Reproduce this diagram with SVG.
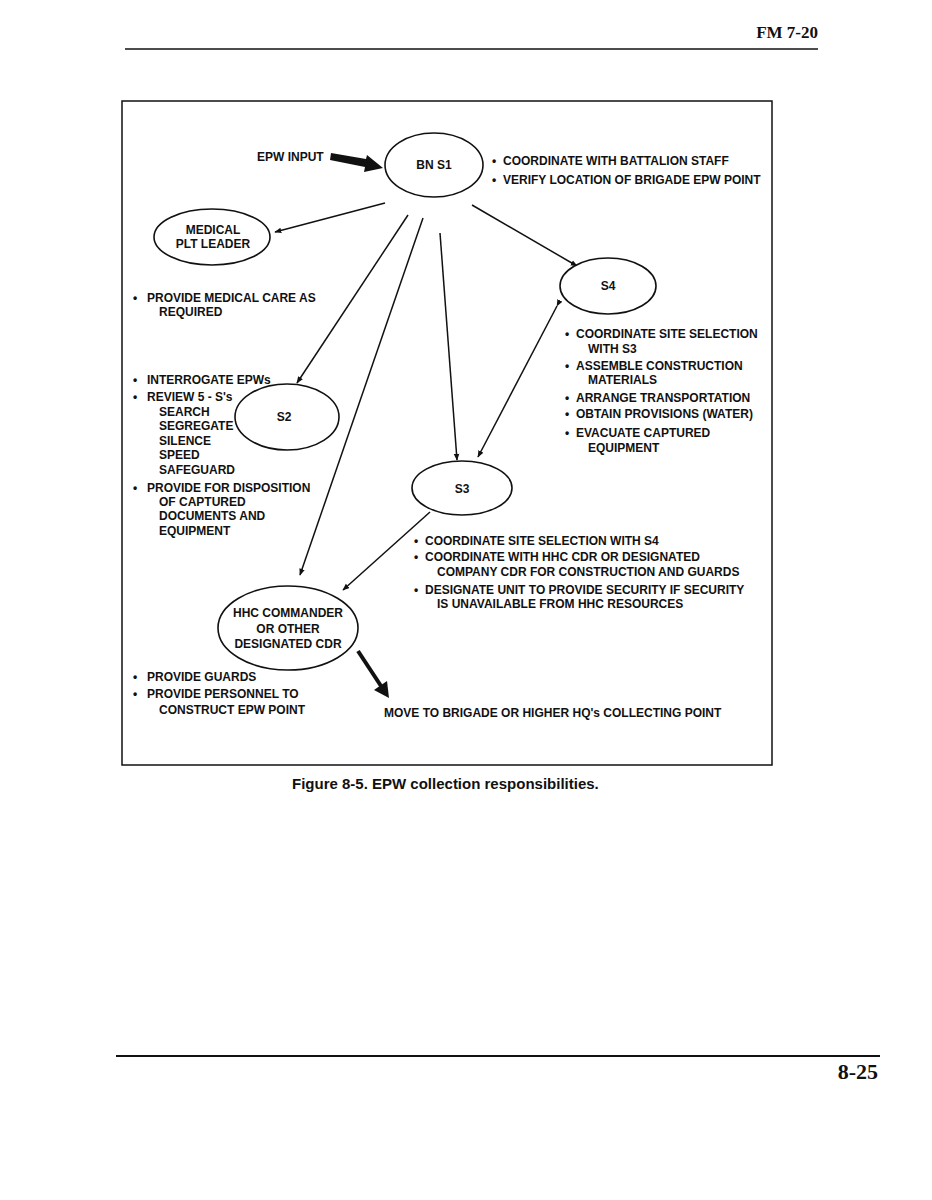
<svg xmlns="http://www.w3.org/2000/svg" width="932" height="1200" viewBox="0 0 932 1200">
<style>
  .t{font-family:"Liberation Sans",Arial,sans-serif;font-weight:bold;font-size:12px;fill:#111}
  .c{text-anchor:middle}
  .hd{font-family:"Liberation Serif","Times New Roman",serif;font-weight:bold;font-size:17px;fill:#111}
  .pg{font-size:22px}
  .cap{font-family:"Liberation Sans",Arial,sans-serif;font-weight:bold;font-size:15px;fill:#111}
  .node{fill:#fff;stroke:#111;stroke-width:1.6}
  .ln{stroke:#111;stroke-width:1.5;fill:none}
</style>
<defs>
  <marker id="ah" viewBox="0 0 10 10" refX="9" refY="5" markerWidth="7" markerHeight="7" orient="auto" markerUnits="userSpaceOnUse">
    <path d="M0,1 L10,5 L0,9 z" fill="#111"/>
  </marker>
</defs>
<rect width="932" height="1200" fill="#fff"/>
<g id="header">
  <text class="hd" x="818" y="38" text-anchor="end">FM 7-20</text>
  <line x1="125" y1="49" x2="818" y2="49" stroke="#111" stroke-width="1.5"/>
</g>
<rect id="frame" x="122" y="101" width="650" height="664" fill="none" stroke="#111" stroke-width="1.5"/>

<g id="connectors">
  <polygon points="331,153 366,159 367,155 383,168 364,172 365,167 330,160" fill="#111"/>
  <line class="ln" x1="385" y1="203" x2="275" y2="232" marker-end="url(#ah)"/>
  <line class="ln" x1="472" y1="205" x2="577" y2="266" marker-end="url(#ah)"/>
  <line class="ln" x1="408" y1="215" x2="297" y2="383" marker-end="url(#ah)"/>
  <line class="ln" x1="423" y1="218" x2="300" y2="575" marker-end="url(#ah)"/>
  <line class="ln" x1="440" y1="233" x2="457" y2="460" marker-end="url(#ah)"/>
  <line class="ln" x1="557" y1="306" x2="478" y2="457" marker-start="url(#ah)" marker-end="url(#ah)"/>
  <line class="ln" x1="430" y1="512" x2="343" y2="590" marker-end="url(#ah)"/>
  <line x1="358" y1="651" x2="381" y2="686" stroke="#111" stroke-width="4"/>
  <polygon points="374,690 389,698 387,681" fill="#111"/>
</g>

<g id="epw-input"><text class="t" x="257" y="161">EPW INPUT</text></g>

<g id="bn-s1">
  <ellipse class="node" cx="434" cy="165" rx="49" ry="32"/>
  <text class="t c" x="434" y="169">BN S1</text>
</g>
<g id="bn-s1-notes">
  <text class="t" x="492" y="165">•</text><text class="t" x="503" y="165">COORDINATE WITH BATTALION STAFF</text>
  <text class="t" x="492" y="184">•</text><text class="t" x="503" y="184">VERIFY LOCATION OF BRIGADE EPW POINT</text>
</g>

<g id="medical">
  <ellipse class="node" cx="212" cy="237" rx="58" ry="28"/>
  <text class="t c" x="213" y="234">MEDICAL</text>
  <text class="t c" x="213" y="248">PLT LEADER</text>
</g>
<g id="medical-notes">
  <text class="t" x="133" y="302">•</text><text class="t" x="147" y="302">PROVIDE MEDICAL CARE AS</text>
  <text class="t" x="159" y="316">REQUIRED</text>
</g>

<g id="s4">
  <ellipse class="node" cx="608" cy="286" rx="48" ry="28"/>
  <text class="t c" x="608" y="290">S4</text>
</g>
<g id="s4-notes">
  <text class="t" x="565" y="338">•</text><text class="t" x="576" y="338">COORDINATE SITE SELECTION</text>
  <text class="t" x="588" y="353">WITH S3</text>
  <text class="t" x="565" y="370">•</text><text class="t" x="576" y="370">ASSEMBLE CONSTRUCTION</text>
  <text class="t" x="588" y="384">MATERIALS</text>
  <text class="t" x="565" y="402">•</text><text class="t" x="576" y="402">ARRANGE TRANSPORTATION</text>
  <text class="t" x="565" y="418">•</text><text class="t" x="576" y="418">OBTAIN PROVISIONS (WATER)</text>
  <text class="t" x="565" y="437">•</text><text class="t" x="576" y="437">EVACUATE CAPTURED</text>
  <text class="t" x="588" y="452">EQUIPMENT</text>
</g>

<g id="s2">
  <ellipse class="node" cx="287" cy="417" rx="52" ry="33"/>
  <text class="t c" x="284" y="421">S2</text>
</g>
<g id="s2-notes">
  <text class="t" x="133" y="384">•</text><text class="t" x="147" y="384">INTERROGATE EPWs</text>
  <text class="t" x="133" y="401">•</text><text class="t" x="147" y="401">REVIEW 5 - S's</text>
  <text class="t" x="159" y="416">SEARCH</text>
  <text class="t" x="159" y="430">SEGREGATE</text>
  <text class="t" x="159" y="445">SILENCE</text>
  <text class="t" x="159" y="459">SPEED</text>
  <text class="t" x="159" y="474">SAFEGUARD</text>
  <text class="t" x="133" y="492">•</text><text class="t" x="147" y="492">PROVIDE FOR DISPOSITION</text>
  <text class="t" x="159" y="506">OF CAPTURED</text>
  <text class="t" x="159" y="520">DOCUMENTS AND</text>
  <text class="t" x="159" y="535">EQUIPMENT</text>
</g>

<g id="s3">
  <ellipse class="node" cx="462" cy="488" rx="50" ry="27"/>
  <text class="t c" x="462" y="493">S3</text>
</g>
<g id="s3-notes">
  <text class="t" x="414" y="545">•</text><text class="t" x="425" y="545">COORDINATE SITE SELECTION WITH S4</text>
  <text class="t" x="414" y="561">•</text><text class="t" x="425" y="561">COORDINATE WITH HHC CDR OR DESIGNATED</text>
  <text class="t" x="437" y="576">COMPANY CDR FOR CONSTRUCTION AND GUARDS</text>
  <text class="t" x="414" y="594">•</text><text class="t" x="425" y="594">DESIGNATE UNIT TO PROVIDE SECURITY IF SECURITY</text>
  <text class="t" x="437" y="608">IS UNAVAILABLE FROM HHC RESOURCES</text>
</g>

<g id="hhc">
  <ellipse class="node" cx="288" cy="628" rx="70" ry="42"/>
  <text class="t c" x="288" y="617">HHC COMMANDER</text>
  <text class="t c" x="288" y="633">OR OTHER</text>
  <text class="t c" x="288" y="648">DESIGNATED CDR</text>
</g>
<g id="hhc-notes">
  <text class="t" x="133" y="681">•</text><text class="t" x="147" y="681">PROVIDE GUARDS</text>
  <text class="t" x="133" y="698">•</text><text class="t" x="147" y="698">PROVIDE PERSONNEL TO</text>
  <text class="t" x="159" y="714">CONSTRUCT EPW POINT</text>
</g>
<g id="move">
  <text class="t" x="384" y="717">MOVE TO BRIGADE OR HIGHER HQ's COLLECTING POINT</text>
</g>

<g id="caption">
  <text class="cap" x="292" y="789">Figure 8-5.  EPW collection responsibilities.</text>
</g>
<g id="footer">
  <line x1="116" y1="1056" x2="880" y2="1056" stroke="#111" stroke-width="2"/>
  <text class="hd pg" x="878" y="1079" text-anchor="end">8-25</text>
</g>
</svg>
